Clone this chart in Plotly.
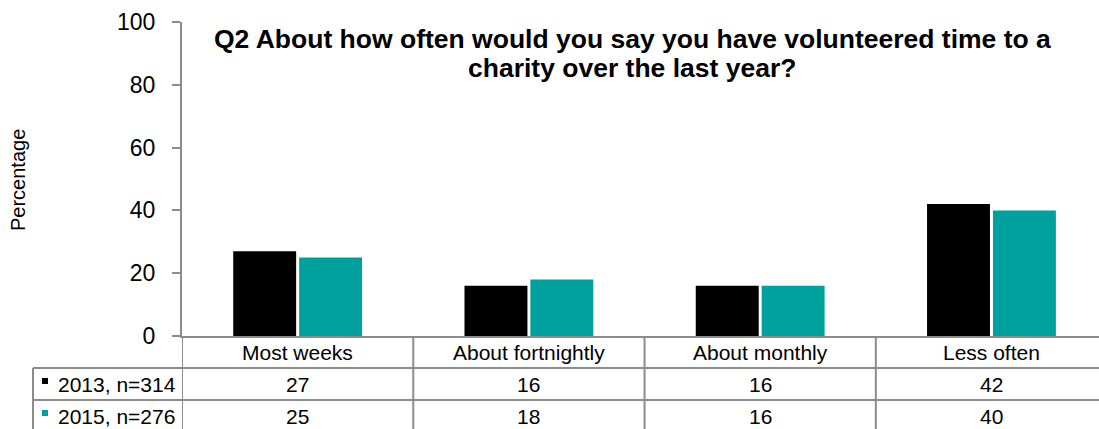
import plotly.graph_objects as go

# ---- data ----
categories = ["Most weeks", "About fortnightly", "About monthly", "Less often"]
series_names = ["2013, n=314", "2015, n=276"]
values_2013 = [27, 16, 16, 42]
values_2015 = [25, 18, 16, 40]
series_values = [values_2013, values_2015]
series_colors = ["#000000", "#00A09F"]
title_lines = ["Q2 About how often would you say you have volunteered time to a",
               "charity over the last year?"]
y_title = "Percentage"
y_ticks = [0, 20, 40, 60, 80, 100]

# ---- geometry (pixels) ----
W, H = 1099, 429
L, R, T, B = 182, 0, 22, 93
PW, PH = W - L - R, H - T - B
FONT = "Liberation Sans, Arial, sans-serif"
GRID = "#8C8C8C"


def px_x(px):
    return (px - L) / PW


def px_y(py):
    return (H - B - py) / PH


fig = go.Figure()
for name, vals, col in zip(series_names, series_values, series_colors):
    fig.add_trace(go.Bar(x=categories, y=vals, name=name,
                         marker=dict(color=col, line=dict(width=0))))

row_h = 32
header_top = H - B
row_tops = [header_top + row_h * (i + 1) for i in range(len(series_names))]
table_bottom = header_top + row_h * (len(series_names) + 1)
table_left = 33

shapes = []
# column separators (category boundaries), running down through the table
for i in range(len(categories)):
    shapes.append(dict(type="line", xref="x", yref="paper",
                       x0=i - 0.5, x1=i - 0.5, y0=px_y(header_top), y1=px_y(table_bottom),
                       line=dict(color=GRID, width=2)))
# left border of the series-name column
shapes.append(dict(type="line", xref="paper", yref="paper",
                   x0=px_x(table_left), x1=px_x(table_left),
                   y0=px_y(row_tops[0]), y1=px_y(table_bottom),
                   line=dict(color=GRID, width=2)))
# horizontal row rules
for yt in row_tops + [table_bottom]:
    shapes.append(dict(type="line", xref="paper", yref="paper",
                       x0=px_x(table_left), x1=1, y0=px_y(yt), y1=px_y(yt),
                       line=dict(color=GRID, width=2)))

annotations = []
# header row: category names
for c in categories:
    annotations.append(dict(x=c, xref="x", y=px_y(header_top + row_h / 2), yref="paper",
                            text=c, showarrow=False, xanchor="center", yanchor="middle",
                            font=dict(family=FONT, size=21, color="#000000")))
# data rows
for r, (name, vals, col) in enumerate(zip(series_names, series_values, series_colors)):
    yc = row_tops[r] + row_h / 2
    for c, v in zip(categories, vals):
        annotations.append(dict(x=c, xref="x", y=px_y(yc), yref="paper",
                                text=str(v), showarrow=False, xanchor="center", yanchor="middle",
                                font=dict(family=FONT, size=21, color="#000000")))
    annotations.append(dict(x=px_x(56), xref="paper", y=px_y(yc), yref="paper",
                            text=name, showarrow=False, xanchor="left", yanchor="middle",
                            font=dict(family=FONT, size=21, color="#000000")))
    # legend key square
    shapes.append(dict(type="rect", xref="paper", yref="paper",
                       x0=px_x(42), x1=px_x(48), y0=px_y(yc - 6), y1=px_y(yc),
                       fillcolor=col, line=dict(width=0)))

# chart title inside the plot area, one annotation per line for tight spacing
for line, yc in zip(title_lines, [39, 68]):
    annotations.append(dict(x=px_x(632), xref="paper", y=px_y(yc), yref="paper",
                            text="<b>" + line + "</b>", showarrow=False,
                            xanchor="center", yanchor="middle",
                            font=dict(family=FONT, size=26.5, color="#000000")))
# y axis title
annotations.append(dict(x=px_x(18), xref="paper", y=px_y(180), yref="paper",
                        text=y_title, showarrow=False, textangle=-90,
                        xanchor="center", yanchor="middle",
                        font=dict(family=FONT, size=20, color="#000000")))

fig.update_layout(
    width=W, height=H,
    margin=dict(l=L, r=R, t=T, b=B),
    paper_bgcolor="#FFFFFF", plot_bgcolor="#FFFFFF",
    barmode="group", bargap=0.43, bargroupgap=0.045,
    showlegend=False,
    shapes=shapes, annotations=annotations,
    font=dict(family=FONT, color="#000000"),
)
fig.update_xaxes(range=[-0.5, len(categories) - 0.535], showticklabels=False,
                 ticks="", showline=True, linecolor=GRID, linewidth=2,
                 showgrid=False, zeroline=False, fixedrange=True)
fig.update_yaxes(range=[0, 100], tickvals=y_ticks, ticks="outside", ticklen=8,
                 tickcolor=GRID, tickwidth=2, showline=True, linecolor=GRID, linewidth=2,
                 showgrid=False, zeroline=False, ticklabelstandoff=12,
                 tickfont=dict(family=FONT, size=23, color="#000000"))

fig.write_html("out.html")
